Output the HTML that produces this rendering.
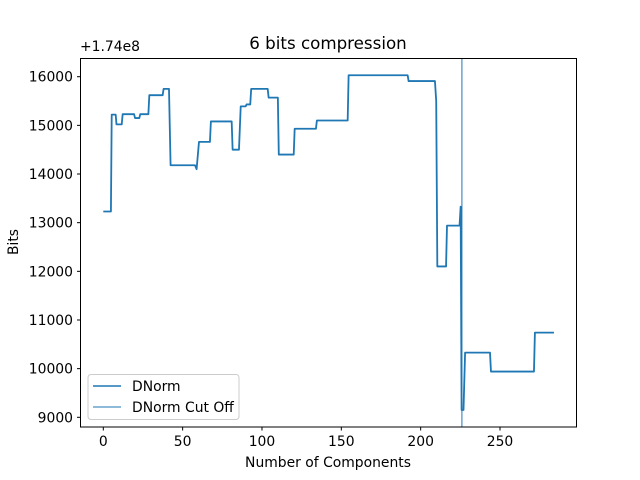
<!DOCTYPE html>
<html><head><meta charset="utf-8"><style>
html,body{margin:0;padding:0;background:#fff;}
svg{display:block;font-family:"DejaVu Sans","Liberation Sans",sans-serif;}
</style></head><body>
<svg id="chart" width="640" height="480" viewBox="0 0 640 480" xmlns="http://www.w3.org/2000/svg">
<rect x="0" y="0" width="640" height="480" fill="#fff"/>
<text x="328" y="49" font-size="16.7" text-anchor="middle" fill="#000">6 bits compression</text>
<text x="80" y="51" font-size="13.9" fill="#000">+1.74e8</text>
<text x="328" y="467" font-size="13.9" text-anchor="middle" fill="#000">Number of Components</text>
<text transform="translate(18,242) rotate(-90)" font-size="13.9" text-anchor="middle" fill="#000">Bits</text>
<g id="xticks"></g>
<g id="yticks"></g>
<g id="plot"></g>
<rect x="80.5" y="58.5" width="496" height="368.5" fill="none" stroke="#000" stroke-width="1"/>
<g>
<rect x="88" y="374.5" width="151" height="45" rx="3" fill="#fff" fill-opacity="0.8" stroke="#ccc"/>
<line x1="93" y1="386" x2="121" y2="386" stroke="#1f77b4" stroke-width="1.5"/>
<text x="132" y="391" font-size="13.9" fill="#000">DNorm</text>
<line x1="93" y1="407" x2="121" y2="407" stroke="#1f77b4" stroke-width="1"/>
<text x="132" y="412" font-size="13.9" fill="#000">DNorm Cut Off</text>
</g>
</svg>
<script>
const xValues=[0,4.8,5.3,7.8,8.3,11.6,12.2,19.4,20,22.7,23.3,28.4,29,37.4,38,41.4,42.4,57.8,58.8,60.3,67.2,67.8,80.9,81.5,85.5,86.6,89.7,90.3,92.6,93.2,103.6,104.2,110,110.6,120,120.6,134,134.6,154,154.6,191.8,192.4,209,209.8,210.5,216,216.6,222.6,224.5,225.2,225.8,227,228,243.7,244.3,271.4,272,284];
const yValues=[13230,13230,15220,15220,15020,15020,15230,15230,15150,15150,15230,15230,15620,15620,15750,15750,14180,14180,14100,14660,14660,15080,15080,14500,14500,15390,15390,15430,15430,15750,15750,15570,15570,14400,14400,14930,14930,15100,15100,16030,16030,15910,15910,15500,12100,12100,12940,12940,12940,13330,9150,9150,10330,10330,9940,9940,10740,10740];
const cutoffX=[226];
const xTicks=[0,50,100,150,200,250];
const yTicks=[9000,10000,11000,12000,13000,14000,15000,16000];
const NS="http://www.w3.org/2000/svg";
function sx(v){return 103.3+v*(500-103.3)/250;}
function sy(v){return 76.7+(16000-v)*(417.3-76.7)/7000;}
const plot=document.getElementById('plot');
const xt=document.getElementById('xticks');
const yt=document.getElementById('yticks');
xTicks.forEach(t=>{
 const l=document.createElementNS(NS,'line');
 
 
 l.setAttribute('x1',sx(t));l.setAttribute('x2',sx(t));l.setAttribute('y1',427);l.setAttribute('y2',430.5);l.setAttribute('stroke','#000');
 xt.appendChild(l);
 const tx=document.createElementNS(NS,'text');
 
 
 tx.setAttribute('x',sx(t));tx.setAttribute('y',446);tx.setAttribute('font-size','13.9');tx.setAttribute('text-anchor','middle');
 tx.textContent=t;xt.appendChild(tx);
});
yTicks.forEach(t=>{
 const l=document.createElementNS(NS,'line');
 
 
 l.setAttribute('x1',77);l.setAttribute('x2',80.5);l.setAttribute('y1',sy(t));l.setAttribute('y2',sy(t));l.setAttribute('stroke','#000');
 yt.appendChild(l);
 const tx=document.createElementNS(NS,'text');
 
 
 tx.setAttribute('x',73);tx.setAttribute('y',sy(t)+5);tx.setAttribute('font-size','13.9');tx.setAttribute('text-anchor','end');
 tx.textContent=t;yt.appendChild(tx);
});
const pts=xValues.map((x,i)=>sx(x).toFixed(2)+','+sy(yValues[i]).toFixed(2)).join(' ');
const pl=document.createElementNS(NS,'polyline');


pl.setAttribute('points',pts);pl.setAttribute('fill','none');pl.setAttribute('stroke','#1f77b4');pl.setAttribute('stroke-width','1.8');pl.setAttribute('stroke-linejoin','round');
plot.appendChild(pl);
cutoffX.forEach(c=>{
 const l=document.createElementNS(NS,'line');
 
 
 l.setAttribute('x1',sx(c));l.setAttribute('x2',sx(c));l.setAttribute('y1',58.5);l.setAttribute('y2',427);l.setAttribute('stroke','#1f77b4');l.setAttribute('stroke-width','1');
 plot.appendChild(l);
});
</script>
</body></html>
